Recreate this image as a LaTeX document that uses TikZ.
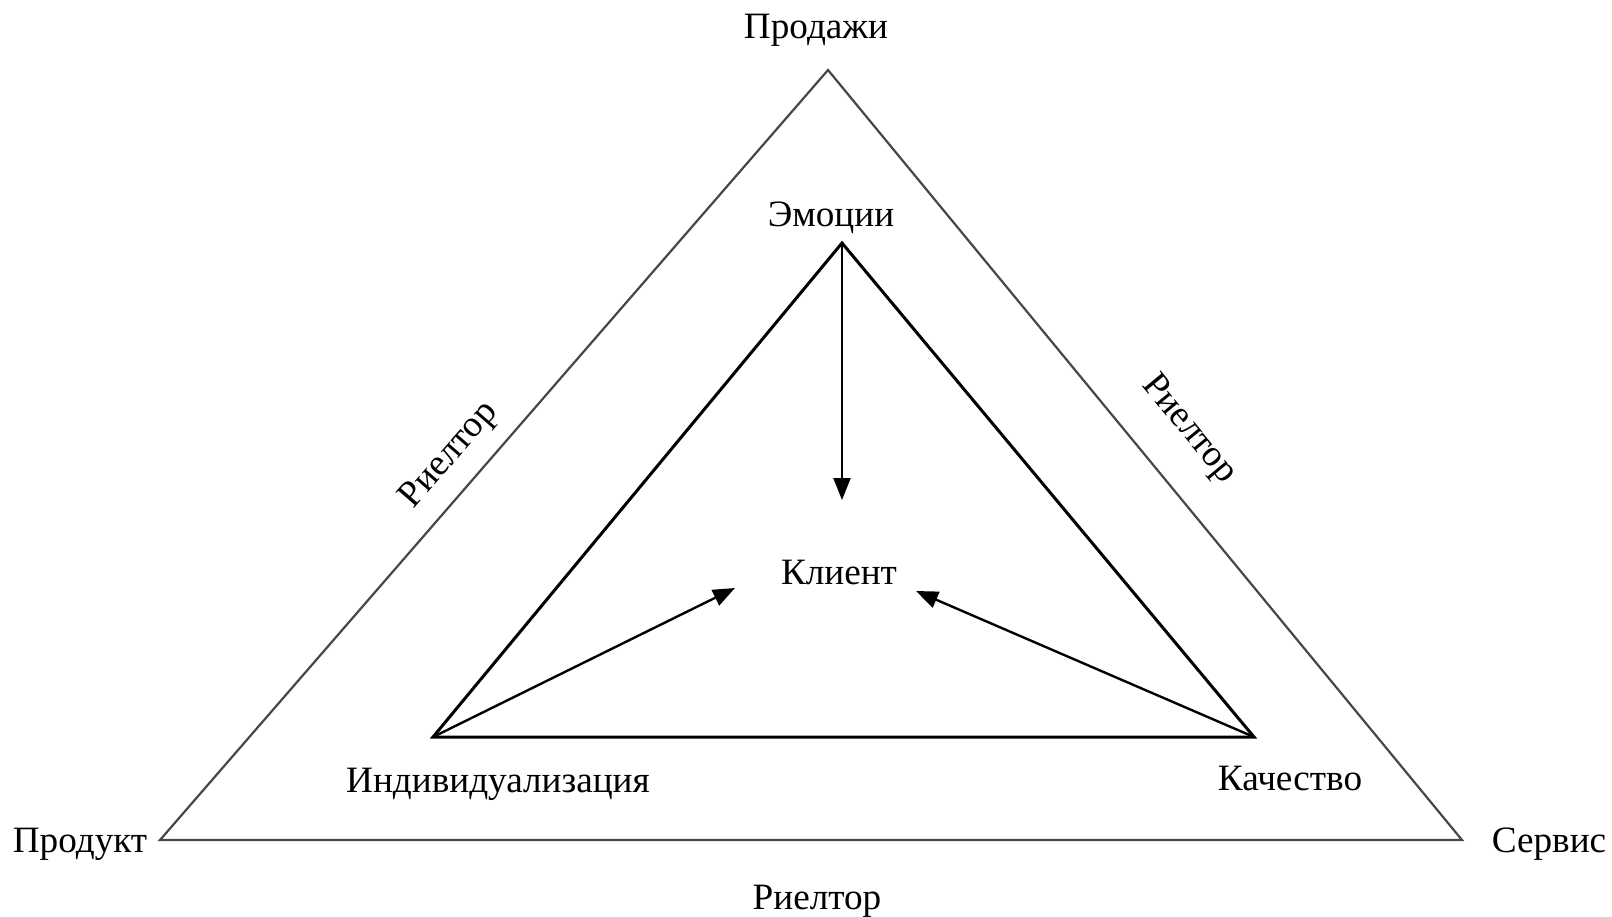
\documentclass[tikz,border=0pt]{standalone}
\usepackage{fontspec}
\setmainfont{Liberation Serif}
\usetikzlibrary{arrows.meta}

\begin{document}
\begin{tikzpicture}[
  x=0.5pt, y=-0.5pt,
  label/.style={inner sep=0pt, text depth=0pt, font=\fontsize{18.6}{22}\selectfont},
  outer/.style={draw=black!72, line width=1.1pt, line join=miter},
  inner/.style={draw=black, line width=1.5pt, line join=miter},
  arrow/.style={draw=black, line width=1.2pt, -{Triangle[length=11pt,width=8.5pt]}}
]
  \useasboundingbox (0,0) rectangle (1612,916);
  % outer triangle
  \coordinate (S) at (828,70);
  \coordinate (P) at (160,840);
  \coordinate (R) at (1462,840);
  \draw[outer] (S)--(P)--(R)--cycle;
  % inner triangle
  \coordinate (E) at (842,243);
  \coordinate (I) at (433,737);
  \coordinate (Q) at (1254,737);
  \draw[inner] (E)--(I)--(Q)--cycle;
  % arrows to the client
  \coordinate (tE) at (842,500);
  \coordinate (tI) at (735,588);
  \coordinate (tQ) at (916,591);
  \draw[arrow] (E)--(tE);
  \draw[arrow] (I)--(tI);
  \draw[arrow] (Q)--(tQ);
  % labels
  \node[label] (sales) at (816,26) {Продажи};
  \node[label] (prod) at (80,840) {Продукт};
  \node[label] (serv) at (1549,840) {Сервис};
  \node[label] (emo) at (831,214) {Эмоции};
  \node[label] (client) at (839,572) {Клиент};
  \node[label] (indiv) at (498,780) {Индивидуализация};
  \node[label] (qual) at (1290,778) {Качество};
  \node[label] (rb) at (817,897) {Риелтор};
  \node[label, rotate=49] (rl) at (447,453) {Риелтор};
  \node[label, rotate=-50.5] (rr) at (1192,427) {Риелтор};
\end{tikzpicture}
\end{document}
